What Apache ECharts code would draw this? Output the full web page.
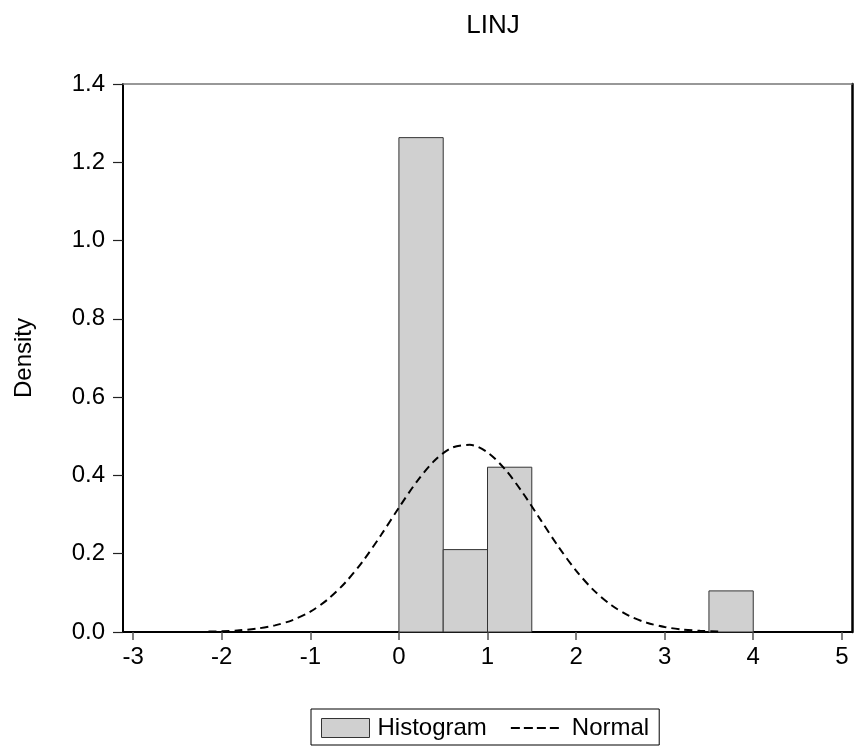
<!DOCTYPE html>
<html><head><meta charset="utf-8">
<script src="https://cdn.jsdelivr.net/npm/echarts@6/dist/echarts.min.js"></script>
<style>html,body{margin:0;padding:0;background:#fff}#c{width:854px;height:751px}</style>
</head><body><div id="c"></div>
<script>
// Histogram bins (density)
const binStart = [0, 0.5, 1.0, 3.5];
const binEnd   = [0.5, 1.0, 1.5, 4.0];
const density  = [1.263, 0.2105, 0.421, 0.105];
// Normal density curve
const normalX = [-2.15,-2.0,-1.8,-1.6,-1.4,-1.2,-1.0,-0.8,-0.6,-0.4,-0.2,0,0.2,0.4,0.6,0.8,1.0,1.2,1.4,1.6,1.8,2.0,2.2,2.4,2.6,2.8,3.0,3.2,3.4,3.6,3.65];
const normalY = [0.0011,0.0020,0.0043,0.0088,0.0169,0.0305,0.0521,0.0839,0.1276,0.1831,0.2483,0.3177,0.3836,0.4374,0.4708,0.4783,0.4588,0.4153,0.3549,0.2864,0.2181,0.1568,0.1064,0.0682,0.0412,0.0235,0.0127,0.0064,0.0031,0.0014,0.0011];
// Tick labels
const xTicks = [-3,-2,-1,0,1,2,3,4,5];
const yTickLabels = ['0.0','0.2','0.4','0.6','0.8','1.0','1.2','1.4'];

const FONT = '"Liberation Sans", Arial, sans-serif';
const chart = echarts.init(document.getElementById('c'), null, {renderer:'canvas'});
const histData = binStart.map((s,i)=>[s, binEnd[i], density[i]]);
const normData = normalX.map((x,i)=>[x, normalY[i]]);

chart.setOption({
  animation:false,
  backgroundColor:'#fff',
  title:{text:'LINJ', left:488, textAlign:'center', top:8,
    textStyle:{fontFamily:FONT, fontSize:26, fontWeight:'normal', color:'#000'}},
  grid:{left:123, top:84, width:729, height:548, containLabel:false, outerBoundsMode:'none'},
  legend:{
    left:311, top:709, orient:'horizontal',
    itemWidth:48, itemHeight:19, itemGap:23,
    borderColor:'#000', borderWidth:1, padding:[7,10,5,10],
    textStyle:{fontFamily:FONT, fontSize:24, color:'#000', padding:[0,0,0,3]},
    data:[
      {name:'Histogram', icon:'rect', itemStyle:{color:'#d0d0d0', borderColor:'#333', borderWidth:1}},
      {name:'Normal', itemStyle:{color:'rgba(0,0,0,0)', borderColor:'rgba(0,0,0,0)', borderWidth:0},
        lineStyle:{color:'#000', width:2, type:[9,4]}, textStyle:{padding:[0,0,0,8]}}
    ]
  },
  xAxis:[{
    type:'value', min:-3.115, max:5.115, position:'bottom',
    splitLine:{show:false},
    axisLine:{show:true, onZero:false, lineStyle:{color:'#000', width:2}},
    axisTick:{show:true, length:8, inside:false, customValues:xTicks, lineStyle:{color:'#555', width:1.5}},
    axisLabel:{customValues:xTicks, margin:13, fontFamily:FONT, fontSize:24, color:'#000'}
  },{
    type:'value', min:-3.115, max:5.115, position:'top',
    splitLine:{show:false}, axisTick:{show:false}, axisLabel:{show:false},
    axisLine:{show:true, onZero:false, lineStyle:{color:'#777', width:1.5}}
  }],
  yAxis:[{
    type:'value', min:0, max:1.4, interval:0.2, position:'left',
    name:'Density', nameLocation:'middle', nameGap:87, nameRotate:90,
    nameTextStyle:{fontFamily:FONT, fontSize:24, color:'#000'},
    splitLine:{show:false},
    axisLine:{show:true, onZero:false, lineStyle:{color:'#000', width:2}},
    axisTick:{show:true, length:10, lineStyle:{color:'#222', width:1.2}},
    axisLabel:{margin:18, fontFamily:FONT, fontSize:24, color:'#000',
      formatter:(v)=>yTickLabels[Math.round(v/0.2)]}
  },{
    type:'value', min:0, max:1.4, position:'right',
    splitLine:{show:false}, axisTick:{show:false}, axisLabel:{show:false},
    axisLine:{show:true, onZero:false, lineStyle:{color:'#000', width:2.5}}
  }],
  series:[{
    name:'Histogram', type:'custom', xAxisIndex:0, yAxisIndex:0,
    data:histData, encode:{x:[0,1], y:2},
    itemStyle:{color:'#d0d0d0'},
    renderItem:function(params, api){
      const p0 = api.coord([api.value(0), api.value(2)]);
      const p1 = api.coord([api.value(1), 0]);
      return {type:'rect', shape:{x:p0[0], y:p0[1], width:p1[0]-p0[0], height:p1[1]-p0[1]},
        style:{fill:'#d0d0d0', stroke:'#333', lineWidth:1}};
    },
    z:2
  },{
    name:'Normal', type:'line', xAxisIndex:0, yAxisIndex:0,
    data:normData, smooth:0.3, symbol:'none', showSymbol:false,
    itemStyle:{color:'#000'},
    lineStyle:{color:'#000', width:2, type:[8,5]},
    z:3
  }]
});
</script></body></html>
